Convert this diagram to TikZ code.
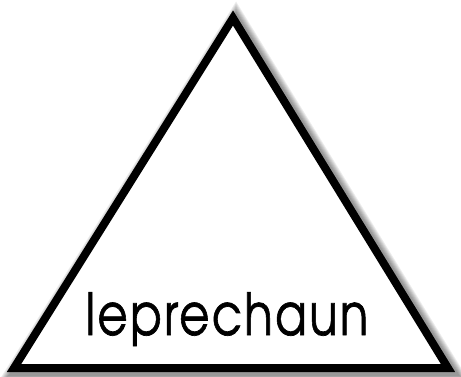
\documentclass[tikz,border=0pt]{standalone}
\usepackage{fontspec}
\setmainfont{texgyreadventor-regular.otf}[LetterSpace=5.3, FakeBold=1.2]
\usepackage{tikz}
\def\edgeW{8pt}
\def\shadowStep{1.8pt}
\begin{document}
\begin{tikzpicture}[
    x=1pt, y=1pt,
    edge/.style={line width=\edgeW, line join=miter, draw=black},
    label/.style={font=\fontsize{58}{58}\selectfont, anchor=base, xscale=0.8}
]
\useasboundingbox (0,0) rectangle (461,376);
\coordinate (top) at (233,358);
\coordinate (left) at (14,8);
\coordinate (right) at (448,8);
% soft shadow
\foreach \i in {1,...,7}{
\draw[line width=\edgeW+\i*\shadowStep, black, opacity=0.07, line join=miter]
    ([shift={(3,-3)}]top) -- ([shift={(3,-3)}]left) -- ([shift={(3,-3)}]right) -- cycle;
}
\fill[white] (top) -- (left) -- (right) -- cycle;
\draw[edge] (top) -- (left) -- (right) -- cycle;
\node[label] (word) at (227,41) {leprechaun};
\end{tikzpicture}
\end{document}
